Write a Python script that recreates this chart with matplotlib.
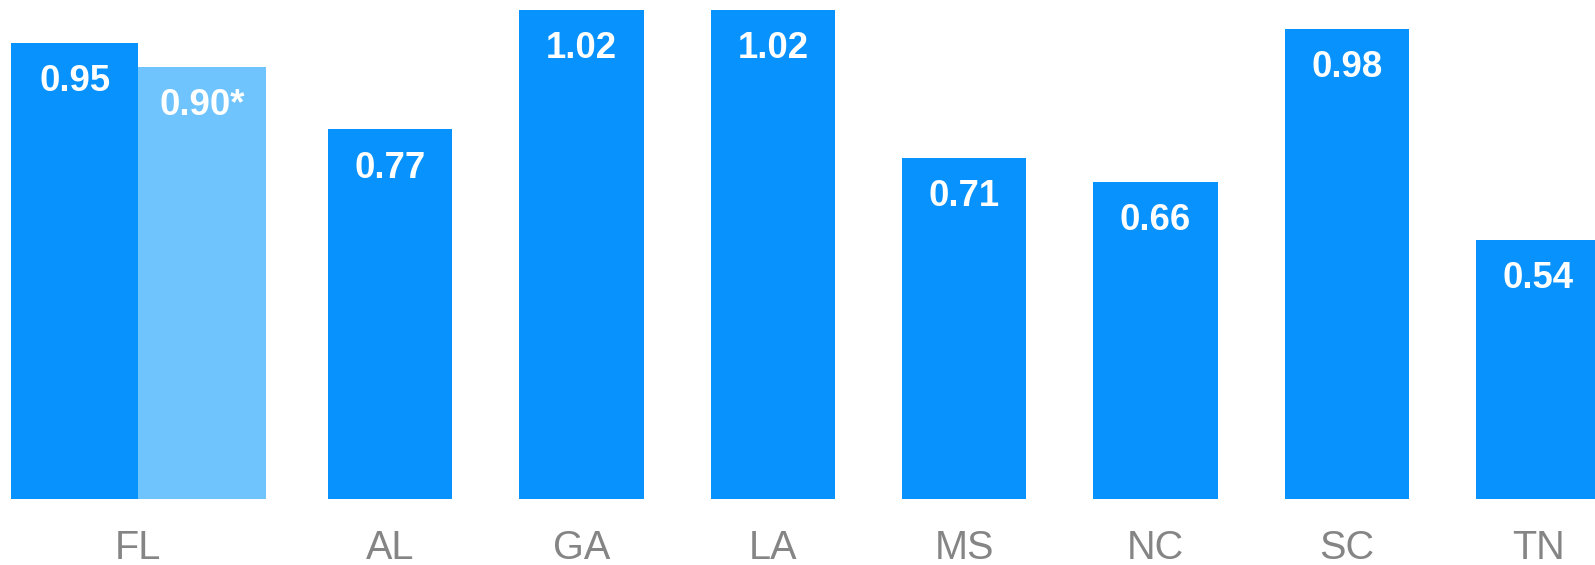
import matplotlib
matplotlib.use("Agg")
import matplotlib.pyplot as plt

# Data
states = ["FL", "AL", "GA", "LA", "MS", "NC", "SC", "TN"]
values = [0.95, 0.77, 1.02, 1.02, 0.71, 0.66, 0.98, 0.54]
fl_second_value = 0.90
fl_second_label = "0.90*"

plt.rcParams['font.family'] = ['Liberation Sans', 'DejaVu Sans']

DARK = "#0892FE"
LIGHT = "#70C4FE"
GREY = "#858585"

fig = plt.figure(figsize=(15.95, 5.65), dpi=100)
ax = fig.add_axes([0, 0, 1, 1])
ax.set_axis_off()

unit_px = 191.3
ax.set_xlim(-138.3 / unit_px, (1595 - 138.3) / unit_px)
px_per_val = 479.3
ax.set_ylim(-66.5 / px_per_val, (565 - 66.5) / px_per_val)

fl_w = 0.666
w = 0.65
first_gap = 1.317

# positions (layout)
pos = [0.0] + [first_gap + i for i in range(len(states) - 1)]

val_pt = 34.7
lab_pt = 43.8
VAL_FS = 26.4
LAB_FS = 28.5

# FL pair
ax.bar(pos[0] - fl_w / 2, values[0], width=fl_w, color=DARK, linewidth=0)
ax.bar(pos[0] + fl_w / 2, fl_second_value, width=fl_w, color=LIGHT, linewidth=0)
ax.annotate(f"{values[0]:.2f}", xy=(pos[0] - fl_w / 2, values[0]), xytext=(0, -val_pt),
            textcoords="offset points", ha="center", va="baseline", color="white",
            fontsize=VAL_FS, fontweight="bold")
ax.annotate(fl_second_label, xy=(pos[0] + fl_w / 2, fl_second_value), xytext=(0, -val_pt),
            textcoords="offset points", ha="center", va="baseline", color="white",
            fontsize=VAL_FS, fontweight="bold")

# other states
ax.bar(pos[1:], values[1:], width=w, color=DARK, linewidth=0)
for x, v in zip(pos[1:], values[1:]):
    ax.annotate(f"{v:.2f}", xy=(x, v), xytext=(0, -val_pt),
                textcoords="offset points", ha="center", va="baseline", color="white",
                fontsize=VAL_FS, fontweight="bold")

for x, s in zip(pos, states):
    ax.annotate(s, xy=(x, 0), xytext=(0, -lab_pt), textcoords="offset points",
                ha="center", va="baseline", color=GREY, fontsize=LAB_FS)

fig.savefig("out.png", dpi=100, facecolor="white")
